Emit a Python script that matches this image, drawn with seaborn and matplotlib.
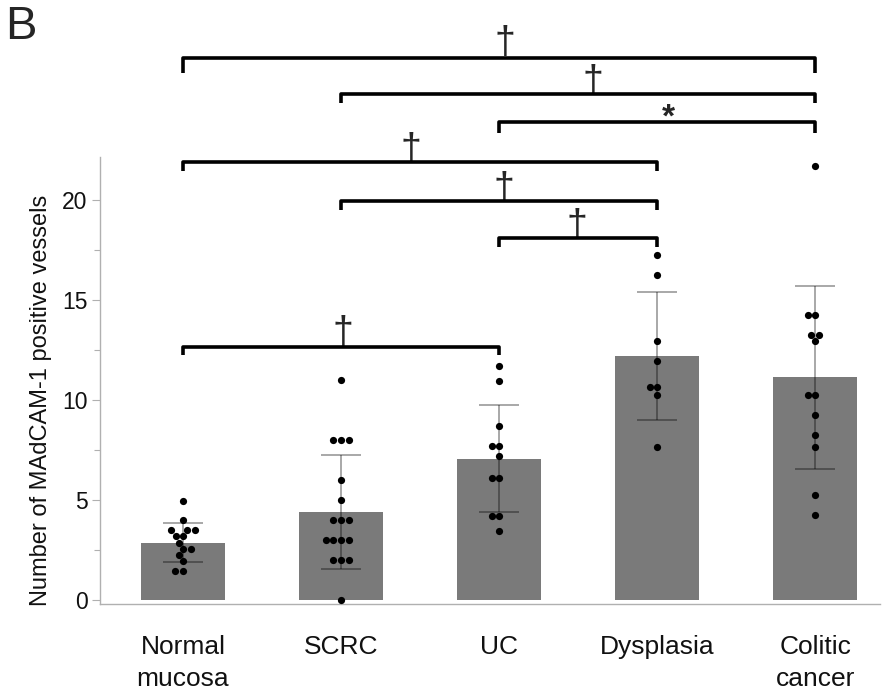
import matplotlib
matplotlib.use('Agg')
import matplotlib.pyplot as plt
import seaborn as sns
import pandas as pd
from matplotlib.ticker import MultipleLocator

categories = ['Normal\nmucosa', 'SCRC', 'UC', 'Dysplasia', 'Colitic\ncancer']
normal_vals = [4.97, 3.98, 3.5, 3.5, 3.5, 3.2, 3.2, 2.87, 2.57, 2.57, 2.23, 1.93, 1.45, 1.45]
scrc_vals = [11, 8, 8, 8, 6, 5, 4, 4, 4, 3, 3, 3, 3, 2, 2, 2, 0]
uc_vals = [11.7, 10.95, 8.7, 7.7, 7.7, 7.2, 6.1, 6.1, 4.2, 4.2, 3.47]
dysplasia_vals = [17.27, 16.27, 12.97, 11.97, 10.67, 10.67, 10.27, 7.65]
colitic_vals = [21.68, 14.27, 14.27, 13.27, 13.27, 12.97, 10.25, 10.25, 9.25, 8.25, 7.65, 5.25, 4.25]
bar_means = [2.87, 4.4, 7.06, 12.19, 11.13]
bar_sds = [0.985, 2.85, 2.675, 3.21, 4.565]

bracket_left = [0, 1, 2, 0, 1, 2, 0]
bracket_right = [4, 4, 4, 3, 3, 3, 2]
bracket_y = [27.1, 25.3, 23.9, 21.9, 19.95, 18.1, 12.67]
bracket_drop = [0.75, 0.43, 0.53, 0.47, 0.45, 0.43, 0.42]
bracket_label = ['†', '†', '*', '†', '†', '†', '†']
label_offset = [0.04, 0.095, 0.07, -0.06, 0.03, -0.01, 0.01]
label_lift = [0.25, 0.1, -0.25, 0.12, 0.1, 0.1, 0.2]

sns.set_style('white')
plt.rcParams['font.family'] = ['Liberation Sans', 'DejaVu Sans']

fig = plt.figure(figsize=(8.85, 6.91), dpi=100)
ax = fig.add_axes([100 / 885, 87 / 691, 780 / 885, 447 / 691])

df_bar = pd.DataFrame({'group': categories, 'mean': bar_means})
sns.barplot(data=df_bar, x='group', y='mean', order=categories, color='#7a7a7a',
            saturation=1, width=0.535, errorbar=None, linewidth=0, ax=ax, zorder=1)

ax.errorbar(range(len(categories)), bar_means, yerr=bar_sds, fmt='none',
            ecolor=(0, 0, 0, 0.4), elinewidth=1.2, capsize=14.4, capthick=1.2, zorder=2)

groups = [normal_vals, scrc_vals, uc_vals, dysplasia_vals, colitic_vals]
rows = []
for cat, vals in zip(categories, groups):
    for v in vals:
        rows.append({'group': cat, 'value': v})
df_pts = pd.DataFrame(rows)
sns.swarmplot(data=df_pts, x='group', y='value', order=categories, color='black',
              size=5.2, ax=ax, zorder=3)

ax.set_xlim(-0.525, 4.41)
ax.set_ylim(-0.2, 22.15)
ax.set_xlabel('')
ax.set_ylabel('')

ax.set_yticks([0, 5, 10, 15, 20])
ax.yaxis.set_minor_locator(MultipleLocator(2.5))
ax.tick_params(axis='y', which='major', left=True, length=6, width=0.8, color='#b0b0b0',
               labelsize=16.5, pad=3, labelcolor='#111111')
ax.tick_params(axis='y', which='minor', left=True, length=4, width=0.8, color='#b0b0b0')
ax.tick_params(axis='x', length=0, pad=22, labelsize=19, labelcolor='#111111')
for lbl in ax.get_xticklabels():
    lbl.set_linespacing(1.45)

for s in ['top', 'right']:
    ax.spines[s].set_visible(False)
for s in ['left', 'bottom']:
    ax.spines[s].set_color('#b0b0b0')
    ax.spines[s].set_linewidth(1)

for x0, x1, y, d, lab, off, lift in zip(bracket_left, bracket_right, bracket_y, bracket_drop,
                                        bracket_label, label_offset, label_lift):
    ax.plot([x0, x0, x1, x1], [y - d, y, y, y - d], color='black', lw=2.6,
            solid_joinstyle='round', solid_capstyle='butt', clip_on=False, zorder=4)
    if lab == '*':
        ax.text((x0 + x1) / 2 + off, y + lift, lab, ha='center', va='baseline',
                fontsize=24, fontweight='bold', clip_on=False)
    else:
        ax.text((x0 + x1) / 2 + off, y + lift, lab, ha='center', va='baseline',
                fontsize=27, clip_on=False)

fig.text(41 / 885, 1 - 400 / 691, 'Number of MAdCAM-1 positive vessels', rotation=90,
         ha='center', va='center', fontsize=17, color='#111111')
fig.text(5 / 885, 1 - 5 / 691, 'B', fontsize=34, ha='left', va='top')

fig.savefig('out.png', dpi=100)
